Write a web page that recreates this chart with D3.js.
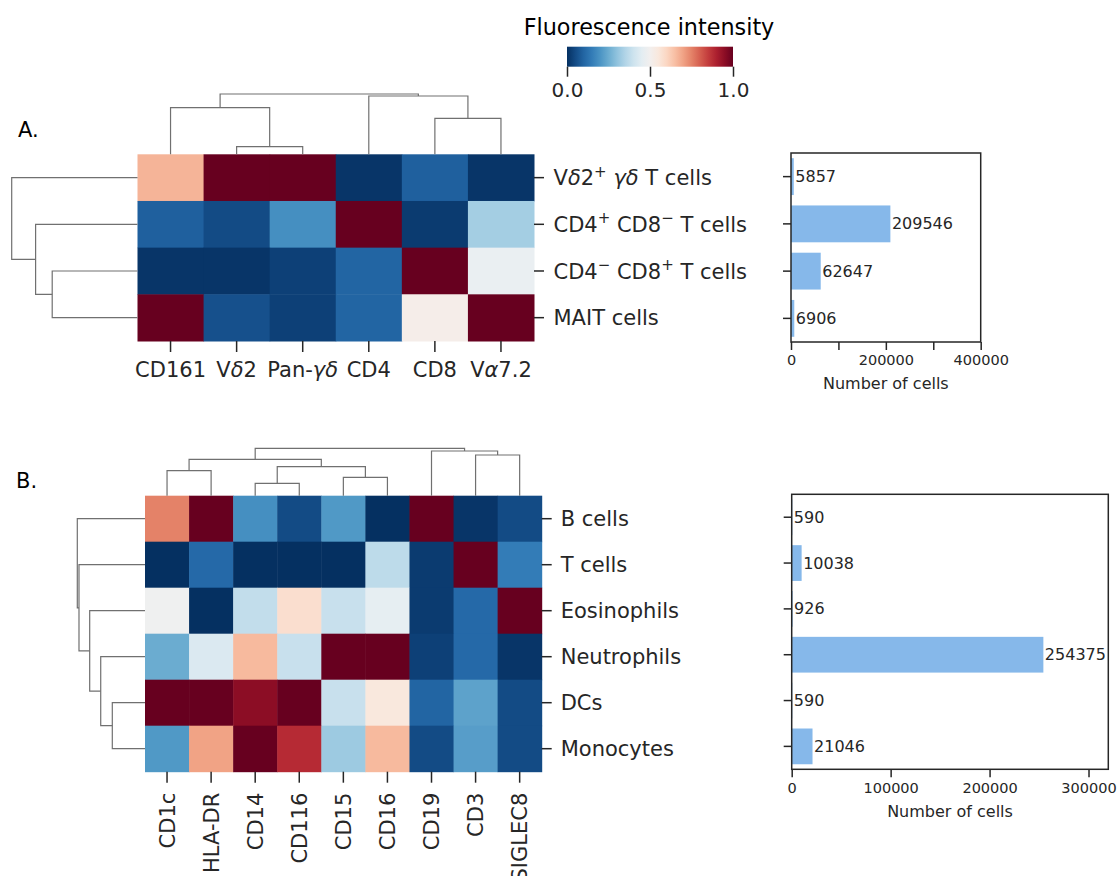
<!DOCTYPE html>
<html>
<head>
<meta charset="utf-8">
<script src="https://cdn.jsdelivr.net/npm/d3@7"></script>
<style>
  body { margin: 0; background: #fff; }
  svg text { font-family: "DejaVu Sans", sans-serif; }
</style>
</head>
<body>
<svg id="fig" width="1117" height="876"></svg>
<script>
// ---- panel A data ----
const markersA = ["CD161", "Vδ2", "Pan-γδ", "CD4", "CD8", "Vα7.2"];
const cellsA = ["Vδ2⁺ γδ T cells", "CD4⁺ CD8⁻ T cells", "CD4⁻ CD8⁺ T cells", "MAIT cells"];
const intensityA = [
  [0.67, 1.00, 1.00, 0.01, 0.09, 0.01],
  [0.09, 0.05, 0.19, 1.00, 0.02, 0.33],
  [0.01, 0.01, 0.03, 0.10, 1.00, 0.47],
  [1.00, 0.06, 0.03, 0.10, 0.52, 1.00]
];
const countsA = [5857, 209546, 62647, 6906];
// linkage: [node a, node b, height], leaves in display order, new nodes numbered after leaves
const colLinkA = [[1, 2, 0.126], [4, 5, 0.597], [0, 6, 0.773], [3, 7, 0.967], [8, 9, 1.0]];
const rowLinkA = [[2, 3, 0.678], [1, 4, 0.81], [0, 5, 1.0]];
const countTicksA = [0, 100000, 200000, 300000, 400000];

// ---- panel B data ----
const markersB = ["CD1c", "HLA-DR", "CD14", "CD116", "CD15", "CD16", "CD19", "CD3", "SIGLEC8"];
const cellsB = ["B cells", "T cells", "Eosinophils", "Neutrophils", "DCs", "Monocytes"];
const intensityB = [
  [0.75, 1.00, 0.19, 0.05, 0.21, 0.00, 1.00, 0.01, 0.05],
  [0.00, 0.11, 0.00, 0.00, 0.00, 0.37, 0.02, 1.00, 0.15],
  [0.49, 0.00, 0.38, 0.58, 0.39, 0.46, 0.02, 0.11, 1.00],
  [0.25, 0.43, 0.66, 0.39, 1.00, 1.00, 0.03, 0.11, 0.01],
  [1.00, 1.00, 0.95, 1.00, 0.39, 0.55, 0.10, 0.23, 0.05],
  [0.21, 0.70, 1.00, 0.88, 0.32, 0.66, 0.05, 0.22, 0.05]
];
const countsB = [590, 10038, 926, 254375, 590, 21046];
const colLinkB = [[2, 3, 0.262], [4, 5, 0.388], [0, 1, 0.527], [9, 10, 0.612], [11, 12, 0.768],
                  [7, 8, 0.859], [6, 14, 0.943], [13, 15, 1.0]];
const rowLinkB = [[4, 5, 0.483], [3, 6, 0.654], [2, 7, 0.817], [1, 8, 0.975], [0, 9, 1.0]];
const countTicksB = [0, 100000, 200000, 300000];

const colorTicks = [0, 0.5, 1];

const svg = d3.select("#fig");
const ink = "#262626";
const barColor = "#86b8ea";
const heat = v => d3.interpolateRdBu(1 - v);

// greek letters in italic, ⁺ / ⁻ as raised small signs
function richText(text, str) {
  const parts = str.match(/[α-ω]+|[⁺⁻]|[^α-ω⁺⁻]+/g);
  let raised = false;
  parts.forEach(p => {
    const t = text.append("tspan");
    if (p === "⁺" || p === "⁻") {
      t.attr("font-size", 15).attr("dy", raised ? 0 : -8.5).text(p === "⁺" ? "+" : "−");
      raised = true;
    } else {
      if (raised) t.attr("dy", 8.5);
      raised = false;
      if (/[α-ω]/.test(p)) t.attr("font-style", "italic");
      t.text(p);
    }
  });
}

function dendrogram(links, leafPos, hScale, side) {
  const pos = leafPos.slice(), h = leafPos.map(() => 0);
  const g = svg.append("g").attr("fill", "none").attr("stroke", "#707070").attr("stroke-width", 1.2);
  links.forEach(([a, b, d]) => {
    const pa = pos[a], pb = pos[b];
    const path = side === "top"
      ? `M${pa},${hScale(h[a])}V${hScale(d)}H${pb}V${hScale(h[b])}`
      : `M${hScale(h[a])},${pa}H${hScale(d)}V${pb}H${hScale(h[b])}`;
    g.append("path").attr("d", path);
    pos.push((pa + pb) / 2);
    h.push(d);
  });
}

function heatmap(cols, rows, vals, x, y, opt) {
  const g = svg.append("g");
  rows.forEach((r, i) => {
    g.selectAll(null).data(vals[i]).enter().append("rect")
      .attr("x", (d, j) => x(cols[j]))
      .attr("y", y(r))
      .attr("width", x.bandwidth() + 0.5)
      .attr("height", y.bandwidth() + 0.5)
      .attr("fill", d => heat(d));
  });
  const right = x.range()[1], bottom = y.range()[1];
  // row ticks + labels
  rows.forEach(r => {
    const cy = y(r) + y.bandwidth() / 2;
    g.append("line").attr("x1", right).attr("x2", right + 10).attr("y1", cy).attr("y2", cy)
      .attr("stroke", ink).attr("stroke-width", 1.5);
    const t = g.append("text").attr("x", right + opt.rowPad).attr("y", cy).attr("dy", "0.36em")
      .attr("font-size", 21).attr("fill", ink);
    richText(t, r);
  });
  // column ticks + labels
  cols.forEach(c => {
    const cx = x(c) + x.bandwidth() / 2;
    g.append("line").attr("x1", cx).attr("x2", cx).attr("y1", bottom).attr("y2", bottom + 11)
      .attr("stroke", ink).attr("stroke-width", 1.5);
    let t;
    if (opt.rotate) {
      t = g.append("text").attr("transform", `translate(${cx},${bottom + 21}) rotate(-90)`)
        .attr("text-anchor", "end").attr("dy", "0.36em");
    } else {
      t = g.append("text").attr("x", cx).attr("y", bottom + 36).attr("text-anchor", "middle");
    }
    t.attr("font-size", 21).attr("fill", ink);
    richText(t, c);
  });
}

function barPanel(cats, counts, x, y, ticks, labelEvery, labelY) {
  const g = svg.append("g");
  const [x0, x1] = x.range(), [y0, y1] = y.range();
  g.selectAll("rect.bar").data(counts).enter().append("rect")
    .attr("class", "bar")
    .attr("x", x(0))
    .attr("y", (d, i) => y(cats[i]))
    .attr("width", d => x(d) - x(0))
    .attr("height", y.bandwidth())
    .attr("fill", barColor);
  g.selectAll("text.val").data(counts).enter().append("text")
    .attr("class", "val")
    .attr("x", d => x(d) + 1.5)
    .attr("y", (d, i) => y(cats[i]) + y.bandwidth() / 2)
    .attr("dy", "0.35em")
    .attr("font-size", 16).attr("fill", ink)
    .text(d => d);

  const xAxis = g.append("g").attr("transform", `translate(0,${y1})`)
    .call(d3.axisBottom(x).tickValues(ticks).tickSize(8).tickPadding(5)
      .tickFormat(d => (d % labelEvery === 0 ? d3.format("d")(d) : "")));
  const yAxis = g.append("g").attr("transform", `translate(${x0},0)`)
    .call(d3.axisLeft(y).tickSize(8).tickFormat(""));
  [xAxis, yAxis].forEach(a => {
    a.select(".domain").remove();
    a.attr("font-family", null).attr("font-size", 14.5);
    a.selectAll("line").attr("stroke", ink).attr("stroke-width", 1.5);
    a.selectAll("text").attr("fill", ink);
  });

  g.append("rect").attr("x", x0).attr("y", y0).attr("width", x1 - x0).attr("height", y1 - y0)
    .attr("fill", "none").attr("stroke", ink).attr("stroke-width", 1.5);

  g.append("text").attr("x", (x0 + x1) / 2).attr("y", labelY).attr("text-anchor", "middle")
    .attr("font-size", 16).attr("fill", ink).text("Number of cells");
}

// ---- colour bar ----
const cbx = d3.scaleLinear().domain([0, 1]).range([567, 733]);
const grad = svg.append("defs").append("linearGradient").attr("id", "rdbu");
d3.range(0, 1.0001, 0.05).forEach(t => {
  grad.append("stop").attr("offset", t).attr("stop-color", heat(t));
});
svg.append("rect").attr("x", cbx(0)).attr("y", 46.7).attr("width", cbx(1) - cbx(0)).attr("height", 20)
  .attr("fill", "url(#rdbu)");
const cbAxis = svg.append("g").attr("transform", "translate(0,66.7)")
  .call(d3.axisBottom(cbx).tickValues(colorTicks).tickSize(10).tickPadding(6).tickFormat(d3.format(".1f")));
cbAxis.select(".domain").remove();
cbAxis.attr("font-family", null).attr("font-size", 20);
cbAxis.selectAll("line").attr("stroke", ink).attr("stroke-width", 1.5);
cbAxis.selectAll("text").attr("fill", ink);
svg.append("text").attr("x", 649).attr("y", 35).attr("text-anchor", "middle")
  .attr("font-size", 22.3).attr("fill", "#000").text("Fluorescence intensity");

// ---- panel A ----
svg.append("text").attr("x", 18).attr("y", 137).attr("font-size", 21).attr("fill", "#000").text("A.");
const hxA = d3.scaleBand().domain(markersA).range([137.5, 534]);
const hyA = d3.scaleBand().domain(cellsA).range([154.3, 341]);
heatmap(markersA, cellsA, intensityA, hxA, hyA, { rowPad: 19.5, rotate: false });
dendrogram(colLinkA, markersA.map(m => hxA(m) + hxA.bandwidth() / 2),
  d3.scaleLinear().domain([0, 1]).range([154.3, 94]), "top");
dendrogram(rowLinkA, cellsA.map(c => hyA(c) + hyA.bandwidth() / 2),
  d3.scaleLinear().domain([0, 1]).range([137.5, 11.7]), "left");

const bxA = d3.scaleLinear().domain([0, 400000]).range([791, 980.7]);
const byA = d3.scaleBand().domain(cellsA).range([153, 342]).paddingInner(0.22).paddingOuter(0.11);
barPanel(cellsA, countsA, bxA, byA, countTicksA, 200000, 389);

// ---- panel B ----
svg.append("text").attr("x", 16).attr("y", 488).attr("font-size", 21).attr("fill", "#000").text("B.");
const hxB = d3.scaleBand().domain(markersB).range([145, 541.7]);
const hyB = d3.scaleBand().domain(cellsB).range([495.7, 771.7]);
heatmap(markersB, cellsB, intensityB, hxB, hyB, { rowPad: 19, rotate: true });
dendrogram(colLinkB, markersB.map(m => hxB(m) + hxB.bandwidth() / 2),
  d3.scaleLinear().domain([0, 1]).range([495.7, 448.3]), "top");
dendrogram(rowLinkB, cellsB.map(c => hyB(c) + hyB.bandwidth() / 2),
  d3.scaleLinear().domain([0, 1]).range([145, 77.3]), "left");

const bxB = d3.scaleLinear().domain([0, 320000]).range([791.7, 1108.3]);
const byB = d3.scaleBand().domain(cellsB).range([494.3, 769.3]).paddingInner(0.22).paddingOuter(0.11);
barPanel(cellsB, countsB, bxB, byB, countTicksB, 100000, 817);
</script>
</body>
</html>
